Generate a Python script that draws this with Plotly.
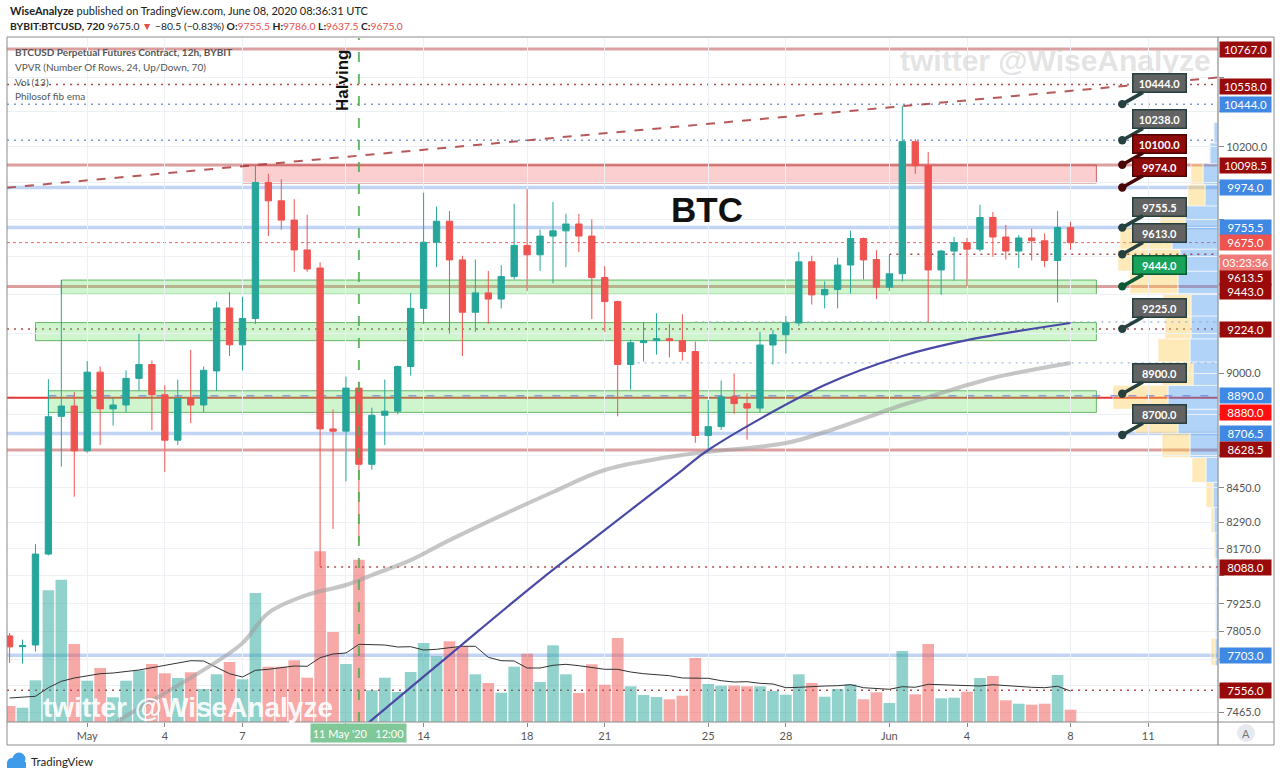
import math
import pandas as pd
import plotly.graph_objects as go

# ---------------- DATA (BYBIT BTCUSD, 12h candles from 2020-04-28 00:00 UTC) ----------------
first_candle = "2020-04-28 00:00"

opens = [7786, 7740, 7747, 8146, 8790, 8840, 8624, 9007, 8826, 8845, 8976, 9045, 8895, 8675, 8877,
         8845, 9013, 9332, 9144, 9278, 10002, 9901, 9796, 9636, 9540, 8729, 8718, 8928, 8560, 8795,
         8815, 9035, 9330, 9677, 9790, 9583, 9310, 9410, 9378, 9495, 9660, 9610, 9710, 9738, 9775,
         9710, 9490, 9365, 9045, 9155, 9165, 9175, 9165, 9110, 8697, 8740, 8885, 8852, 8830, 9143,
         9195, 9255, 9573, 9400, 9428, 9556, 9697, 9585, 9440, 9510, 10230, 10095, 9530, 9630, 9675,
         9640, 9810, 9705, 9630, 9700, 9685, 9580, 9755.5]
highs = [7799, 7770, 8191, 8972, 9477, 8910, 9062, 9035, 8880, 9016, 9200, 9065, 8942, 8970, 9118,
         9035, 9365, 9415, 9390, 10095, 10050, 10020, 9910, 9825, 9570, 8823, 8985, 8960, 8832, 8970,
         9040, 9410, 9945, 9870, 9845, 9605, 9585, 9525, 9555, 9885, 9965, 9745, 9895, 9830, 9830,
         9800, 9550, 9370, 9170, 9260, 9305, 9250, 9300, 9160, 8869, 8965, 9000, 8902, 9210, 9220,
         9290, 9625, 9605, 9470, 9595, 9740, 9702, 9635, 9615, 10435, 10245, 10172, 9636, 9705, 9700,
         9880, 9840, 9770, 9715, 9750, 9725, 9845, 9786]
lows = [7671, 7668, 7719, 8140, 8549, 8408, 8615, 8652, 8745, 8810, 8915, 8723, 8524, 8652, 8757,
        8810, 8915, 9088, 9016, 9250, 9710, 9745, 9520, 9520, 8088, 8260, 8480, 8200, 8535, 8652,
        8800, 8990, 9250, 9545, 9200, 9088, 9210, 9250, 9330, 9480, 9420, 9525, 9460, 9545, 9625,
        9275, 9210, 8790, 8920, 9060, 9095, 9080, 9065, 8662, 8614, 8724, 8802, 8677, 8810, 9045,
        9100, 9240, 9350, 9330, 9330, 9407, 9480, 9378, 9420, 9470, 10050, 9255, 9400, 9475, 9445,
        9628, 9600, 9585, 9540, 9580, 9545, 9360, 9637.5]
closes = [7739, 7745, 8146, 8788, 8840, 8624, 9007, 8826, 8845, 8976, 9045, 8895, 8675, 8877, 8845,
          9016, 9332, 9144, 9278, 10002, 9901, 9796, 9636, 9535, 8729, 8718, 8928, 8560, 8795, 8815,
          9035, 9330, 9677, 9790, 9583, 9310, 9410, 9378, 9495, 9660, 9610, 9710, 9738, 9775, 9710,
          9490, 9365, 9045, 9155, 9165, 9175, 9165, 9110, 8697, 8740, 8885, 8852, 8830, 9143, 9195,
          9255, 9573, 9400, 9428, 9556, 9697, 9583, 9440, 9510, 10230, 10095, 9530, 9630, 9675, 9640,
          9810, 9705, 9630, 9700, 9685, 9580, 9755.5, 9675]
volumes = [160, 143, 417, 1317, 1423, 780, 413, 540, 247, 413, 517, 580, 487, 440, 497,
           330, 477, 600, 427, 1290, 553, 553, 617, 443, 1707, 900, 580, 1623, 317, 443,
           300, 500, 790, 657, 807, 760, 477, 390, 293, 553, 683, 400, 767, 477, 290,
           577, 373, 840, 357, 270, 250, 227, 263, 640, 380, 363, 363, 357, 357, 310,
           273, 477, 390, 253, 330, 377, 227, 297, 190, 710, 277, 780, 237, 243, 303,
           440, 460, 217, 183, 173, 183, 470, 123]
vol_ma = [240, 250, 257, 343, 407, 440, 460, 483, 490, 503, 520, 543, 567, 593, 613,
          610, 543, 483, 450, 517, 527, 543, 560, 557, 643, 680, 690, 777, 777, 770,
          750, 753, 720, 727, 743, 757, 757, 647, 613, 610, 540, 540, 567, 577, 563,
          547, 527, 527, 500, 483, 473, 463, 440, 440, 437, 413, 400, 403, 387, 380,
          343, 347, 357, 360, 363, 373, 343, 337, 327, 353, 347, 377, 373, 370, 360,
          360, 373, 363, 353, 347, 343, 357, 310]

# "Philosof fib ema" lines, read at selected candles (index into candle list)
ema_gray_idx = [7, 9, 12, 15, 18, 20, 23, 26, 28, 31, 34, 42, 46, 52, 60, 63, 69, 71, 76, 82]
ema_gray_val = [7380, 7449, 7544, 7641, 7755, 7885, 7964, 8008, 8052, 8119, 8209, 8430, 8533, 8604,
                8661, 8714, 8845, 8884, 8978, 9053]
ema_navy_idx = [26, 28, 34, 41, 45, 52, 54, 63, 69, 74, 82]
ema_navy_val = [7343, 7433, 7704, 8030, 8209, 8533, 8628, 8943, 9088, 9168, 9255]

# Volume profile (VPVR, 24 rows): row edges and up/down volume per row
vp_edges = [7660, 7776.5, 7893, 8009.5, 8126, 8242.5, 8359, 8475.5, 8592, 8708.5, 8825, 8941.5,
            9058, 9174.5, 9291, 9407.5, 9524, 9640.5, 9757, 9873.5, 9990, 10106.5, 10223, 10339.5,
            10456]
vp_up = [3, 2, 2, 2, 3, 4, 5, 12, 28, 40, 50, 25, 28, 27, 27, 40, 38, 46, 33, 13, 15, 8, 4, 1]
vp_down = [4, 1, 1, 1, 1, 3, 7, 14, 28, 43, 55, 31, 32, 26, 28, 48, 62, 52, 25, 17, 12, 1, 1, 0.5]

# horizontal levels: price, style, first candle index (None = full width)
level_prices = [10767.0, 10098.5, 9443.0, 8628.5, 9974.0, 9755.5, 8706.5, 7703.0, 8880.0, 8890.0,
                9675.0, 9613.5, 9224.0, 8088.0, 7556.0, 10558.0, 10444.0, 10238.0, 9260.0, 9053.0]
level_styles = ["thick_red", "thick_red", "thick_red", "thick_red", "thick_blue", "thick_blue",
                "thick_blue", "thick_blue", "solid_red", "dash_blue", "dot_last", "dot_dark",
                "dot_dark", "dot_dark", "dot_dark", "dot_dark", "dot_blue", "dot_blue",
                "dot_light", "dot_light"]
level_start = [None, None, None, None, None, None, None, None, None, 3, None, 68, None, 24, None,
               None, None, None, 53, 48]

# zones (rectangles)
zone_lo = [9999, 9403, 9165, 8809]
zone_hi = [10098.5, 9477, 9257, 8915]
zone_start = [18, 4, 2, 3]
zone_end = 84
zone_kind = ["red", "green", "green", "green"]

# trend line (dashed) end values at chart edges
trend_vals = [9973, 10599]

# callouts on the right
callout_vals = [10444.0, 10238.0, 10100.0, 9974.0, 9755.5, 9613.0, 9444.0, 9225.0, 8900.0, 8700.0]
callout_kind = ["gray", "gray", "red", "red", "gray", "gray", "green", "gray", "gray", "gray"]
callout_idx = 86

# price-scale labels
axis_label_vals = [10767.0, 10558.0, 10444.0, 10098.5, 9974.0, 9755.5, 9675.0, 9613.5, 9443.0,
                   9224.0, 8890.0, 8880.0, 8706.5, 8628.5, 8088.0, 7703.0, 7556.0]
axis_label_kind = ["dark", "dark", "blue", "dark", "blue", "blue", "last", "dark", "dark", "dark",
                   "blue", "red", "blue", "dark", "dark", "blue", "dark"]
axis_label_shift = [0, -2, 0, 0, 0, 0, 0, -23, -5, 0, 0, -15, 0, 0, 0, 0, 0]
countdown_text = "03:23:36"

# price grid; labels that sit under a price-scale label are left blank
price_ticks = [7465, 7575, 7685, 7805, 7925, 8050, 8170, 8290, 8450, 8600, 8800, 9000, 9200, 9400,
               9600, 9800, 10000, 10200, 10400, 10600]
price_tick_text = ["7465.0", "", "", "7805.0", "7925.0", "", "8170.0", "8290.0", "8450.0", "",
                   "", "9000.0", "", "", "", "", "", "10200.0", "", ""]
date_ticks = ["2020-05-01", "2020-05-04", "2020-05-07", "2020-05-11", "2020-05-14", "2020-05-18",
              "2020-05-21", "2020-05-25", "2020-05-28", "2020-06-01", "2020-06-04", "2020-06-08",
              "2020-06-11"]
date_tick_text = ["May", "4", "7", "", "14", "18", "21", "25", "28", "Jun", "4", "8", "11"]
halving_idx = 27

# ---------------- STYLE ----------------
UP = "#26a69a"
DN = "#ef5350"
UP_VOL = "rgba(38,166,154,0.5)"
DN_VOL = "rgba(239,83,80,0.5)"
GRID = "#edf0f4"
FONT = "Lato"

step = pd.Timedelta(hours=12)
t0 = pd.Timestamp(first_candle)
times = [t0 + i * step for i in range(len(opens))]
x_left = t0 - 0.2 * step
x_right = t0 + 93.4 * step


def ts(t):
    return pd.Timestamp(t).strftime("%Y-%m-%d %H:%M:%S")


fig = go.Figure()

vol_colors = [UP_VOL if c >= o else DN_VOL for o, c in zip(opens, closes)]
fig.add_trace(go.Bar(x=times, y=volumes, marker=dict(color=vol_colors, line=dict(width=0)),
                     xaxis="x", yaxis="y", hoverinfo="skip", showlegend=False))
fig.add_trace(go.Scatter(x=times, y=vol_ma, mode="lines", line=dict(color="#333333", width=1),
                         xaxis="x", yaxis="y", hoverinfo="skip", showlegend=False))
fig.add_trace(go.Candlestick(x=times, open=opens, high=highs, low=lows, close=closes,
                             xaxis="x", yaxis="y2", whiskerwidth=0,
                             increasing=dict(line=dict(color=UP, width=1), fillcolor=UP),
                             decreasing=dict(line=dict(color=DN, width=1), fillcolor=DN),
                             hoverinfo="skip", showlegend=False))
fig.add_trace(go.Scatter(x=[times[i] for i in ema_gray_idx], y=ema_gray_val, mode="lines",
                         line=dict(color="rgba(160,160,160,0.6)", width=4, shape="spline"),
                         xaxis="x", yaxis="y2", hoverinfo="skip", showlegend=False))
fig.add_trace(go.Scatter(x=[times[i] for i in ema_navy_idx], y=ema_navy_val, mode="lines",
                         line=dict(color="#4a4aa6", width=2.2, shape="spline"),
                         xaxis="x", yaxis="y2", hoverinfo="skip", showlegend=False))
fig.add_trace(go.Scatter(x=[0], y=[9000], mode="markers", marker=dict(opacity=0),
                         xaxis="x2", yaxis="y2", hoverinfo="skip", showlegend=False))

shapes = []

# volume profile
for i in range(len(vp_up)):
    shapes.append(dict(type="rect", xref="x2", yref="y2", x0=0, x1=vp_up[i],
                       y0=vp_edges[i], y1=vp_edges[i + 1], fillcolor="rgba(66,150,235,0.42)",
                       line=dict(width=0.6, color="white"), layer="below"))
    shapes.append(dict(type="rect", xref="x2", yref="y2", x0=vp_up[i], x1=vp_up[i] + vp_down[i],
                       y0=vp_edges[i], y1=vp_edges[i + 1], fillcolor="rgba(252,200,70,0.38)",
                       line=dict(width=0.6, color="white"), layer="below"))

# zones
for lo, hi, s, kind in zip(zone_lo, zone_hi, zone_start, zone_kind):
    if kind == "red":
        fc, lc = "rgba(244,110,110,0.33)", "rgba(190,70,70,0.8)"
    else:
        fc, lc = "rgba(110,225,110,0.33)", "rgba(60,160,60,0.75)"
    shapes.append(dict(type="rect", xref="x", yref="y2", x0=ts(times[s]), x1=ts(t0 + zone_end * step),
                       y0=lo, y1=hi, fillcolor=fc, line=dict(color=lc, width=1), layer="below"))

level_style_map = {
    "thick_red": dict(color="rgba(192,80,80,0.55)", width=3),
    "thick_blue": dict(color="rgba(120,160,230,0.45)", width=3.5),
    "solid_red": dict(color="#e53935", width=2),
    "dash_blue": dict(color="rgba(110,130,220,0.75)", width=1.5, dash="8px,10px"),
    "dot_last": dict(color="rgba(239,83,80,0.9)", width=1, dash="3px,3px"),
    "dot_dark": dict(color="rgba(150,30,30,0.8)", width=1.5, dash="2px,5px"),
    "dot_blue": dict(color="rgba(80,120,200,0.75)", width=1.5, dash="2px,5px"),
    "dot_light": dict(color="rgba(140,170,220,0.8)", width=1.3, dash="2px,5px"),
}
for p, st, s in zip(level_prices, level_styles, level_start):
    if s is None:
        shapes.append(dict(type="line", xref="paper", yref="y2", x0=0, x1=1, y0=p, y1=p,
                           line=level_style_map[st], layer="below"))
    else:
        shapes.append(dict(type="line", xref="x", yref="y2", x0=ts(times[s]), x1=ts(x_right),
                           y0=p, y1=p, line=level_style_map[st], layer="below"))

# trend line
shapes.append(dict(type="line", xref="x", yref="y2", x0=ts(x_left), x1=ts(x_right),
                   y0=trend_vals[0], y1=trend_vals[1],
                   line=dict(color="rgba(170,60,60,0.85)", width=2, dash="9px,9px"), layer="above"))

# halving line
shapes.append(dict(type="line", xref="x", yref="paper", x0=ts(times[halving_idx]), x1=ts(times[halving_idx]),
                   y0=0, y1=1, line=dict(color="rgba(76,175,80,0.85)", width=2, dash="10px,12px"),
                   layer="above"))

# frame
PW, PH = 1211.0, 684.0


def px(xp):
    return (xp - 7) / PW


def py(yp):
    return (722 - yp) / PH


shapes.append(dict(type="rect", xref="paper", yref="paper", x0=px(7), x1=px(1274), y0=py(745), y1=py(37),
                   line=dict(color="#8c8c8c", width=1), fillcolor="rgba(0,0,0,0)", layer="above"))
shapes.append(dict(type="line", xref="paper", yref="paper", x0=1, x1=1, y0=py(745), y1=py(37),
                   line=dict(color="#8c8c8c", width=1.2), layer="above"))
shapes.append(dict(type="line", xref="paper", yref="paper", x0=0, x1=px(1274), y0=0, y1=0,
                   line=dict(color="#8c8c8c", width=1.2), layer="above"))
# "A" circle
shapes.append(dict(type="circle", xref="paper", yref="paper", x0=px(1237), x1=px(1255), y0=py(742), y1=py(724),
                   fillcolor="#e6eaf0", line=dict(width=0), layer="above"))
# TradingView logo (simple cloud)
for cx, cy, r in [(12, 763, 5), (19, 759, 6.5)]:
    shapes.append(dict(type="circle", xref="paper", yref="paper", x0=px(cx - r), x1=px(cx + r),
                       y0=py(cy + r), y1=py(cy - r), fillcolor="#3d9be9", line=dict(width=0)))
shapes.append(dict(type="rect", xref="paper", yref="paper", x0=px(7), x1=px(26), y0=py(768), y1=py(762),
                   fillcolor="#3d9be9", line=dict(width=0)))

annotations = []


def paper_text(x, y, text, size, color, family=FONT, xanchor="center", angle=0):
    return dict(xref="paper", yref="paper", x=px(x), y=py(y), xanchor=xanchor, yanchor="middle",
                showarrow=False, text=text, textangle=angle,
                font=dict(family=family, size=size, color=color))


# header
annotations.append(paper_text(8, 11, "<b>WiseAnalyze</b> published on TradingView.com, June 08, 2020 08:36:31 UTC",
                              11, "#222", xanchor="left"))
red = "#e84c4a"
hdr2 = ("<b>BYBIT:BTCUSD, 720</b> 9675.0 <span style='color:%s'>▼</span> −80.5 (−0.83%%) "
        "<b>O:</b><span style='color:%s'>9755.5</span> <b>H:</b><span style='color:%s'>9786.0</span> "
        "<b>L:</b><span style='color:%s'>9637.5</span> <b>C:</b><span style='color:%s'>9675.0</span>") % (
    red, red, red, red, red)
annotations.append(paper_text(8, 26, hdr2, 10.3, "#222", xanchor="left"))

# legend lines
leg = [("<b>BTCUSD Perpetual Futures Contract, 12h, BYBIT</b>", 52),
       ("VPVR (Number Of Rows, 24, Up/Down, 70)", 67),
       ("Vol (13)", 82), ("Philosof fib ema", 96)]
for txt, yy in leg:
    annotations.append(paper_text(13, yy, txt, 10, "#555", xanchor="left"))

# watermarks & titles
annotations.append(paper_text(1055, 60, "<b>twitter @WiseAnalyze</b>", 30, "rgba(185,185,185,0.4)",
                              family="Liberation Sans"))
annotations.append(paper_text(188, 707, "<b>twitter @WiseAnalyze</b>", 28, "rgba(255,255,255,0.93)",
                              family="Liberation Sans"))
annotations.append(paper_text(707, 209, "<b>BTC</b>", 35, "#111", family="Liberation Sans"))
annotations.append(paper_text(343, 80, "<b>Halving</b>", 17, "#111", family="Liberation Sans", angle=-90))

# callouts
callout_style = {"gray": ("#636363", "#25403f", "#25403f"),
                 "red": ("#8e0b0b", "#4a0606", "#4a0606"),
                 "green": ("#17a35a", "#0c5a33", "#0c5a33")}
tip_time = ts(t0 + callout_idx * step)
for v, kind in zip(callout_vals, callout_kind):
    bg, bd, ac = callout_style[kind]
    annotations.append(dict(x=tip_time, y=math.log10(v), xref="x", yref="y2",
                            text="<b>%.1f</b>" % v, showarrow=True, ax=37, ay=-21,
                            axref="pixel", ayref="pixel", arrowhead=6, arrowsize=0.6, arrowwidth=3.5,
                            arrowcolor=ac, standoff=0, bgcolor=bg, bordercolor=bd, borderwidth=1.5,
                            borderpad=1, width=50, height=15,
                            font=dict(family=FONT, size=11, color="white")))

# price-scale labels
label_bg = {"dark": "#990a0a", "blue": "#3f88e4", "last": "#ef5350", "red": "#ff1010"}
for v, kind, sh in zip(axis_label_vals, axis_label_kind, axis_label_shift):
    annotations.append(dict(xref="paper", yref="y2", x=1, y=math.log10(v), xanchor="left", yanchor="middle",
                            xshift=1, yshift=sh, showarrow=False, text="%.1f" % v, bgcolor=label_bg[kind],
                            width=49, height=13, borderpad=1,
                            font=dict(family=FONT, size=11.5, color="white")))
annotations.append(dict(xref="paper", yref="y2", x=1, y=math.log10(axis_label_vals[6]), xanchor="left",
                        yanchor="middle", xshift=1, yshift=-20, showarrow=False, text=countdown_text,
                        bgcolor="#f07a78", width=49, height=13, borderpad=1,
                        font=dict(family=FONT, size=11.5, color="white")))

# crosshair time label
annotations.append(dict(xref="x", yref="paper", x=ts(times[halving_idx]), y=0, xanchor="center",
                        yanchor="top", yshift=-1, showarrow=False,
                        text="11 May '20&nbsp;&nbsp;&nbsp;12:00", bgcolor="#80c897",
                        width=93, height=16, font=dict(family=FONT, size=11, color="white")))
annotations.append(paper_text(1246, 733, "A", 11, "#777"))
annotations.append(paper_text(29, 761, "TradingView", 11.5, "#222", xanchor="left"))

fig.update_layout(
    width=1280, height=777,
    margin=dict(l=7, r=62, t=38, b=55),
    paper_bgcolor="white", plot_bgcolor="white",
    showlegend=False, hovermode=False,
    bargap=0.1,
    font=dict(family=FONT),
    xaxis=dict(type="date", range=[ts(x_left), ts(x_right)], tickvals=date_ticks, ticktext=date_tick_text,
               showgrid=True, gridcolor=GRID, gridwidth=1, ticks="outside", ticklen=4, tickcolor="#888",
               tickfont=dict(family=FONT, size=11, color="#555"), rangeslider=dict(visible=False),
               showline=False, zeroline=False),
    xaxis2=dict(overlaying="x", range=[PW, 0], visible=False, anchor="y2"),
    yaxis=dict(range=[0, 6840], visible=False, showgrid=False, zeroline=False),
    yaxis2=dict(overlaying="y", side="right", type="log", anchor="x",
                range=[math.log10(7424.4), math.log10(10832.6)],
                tickvals=price_ticks, ticktext=price_tick_text,
                showgrid=True, gridcolor=GRID, gridwidth=1, ticks="outside", ticklen=5, tickcolor="#888",
                tickfont=dict(family=FONT, size=11, color="#555"), showline=False, zeroline=False),
    shapes=shapes,
    annotations=annotations,
)

fig.write_html("out.html", config={"displayModeBar": False},
               post_script="document.body.style.margin='0';document.body.style.overflow='hidden';")
